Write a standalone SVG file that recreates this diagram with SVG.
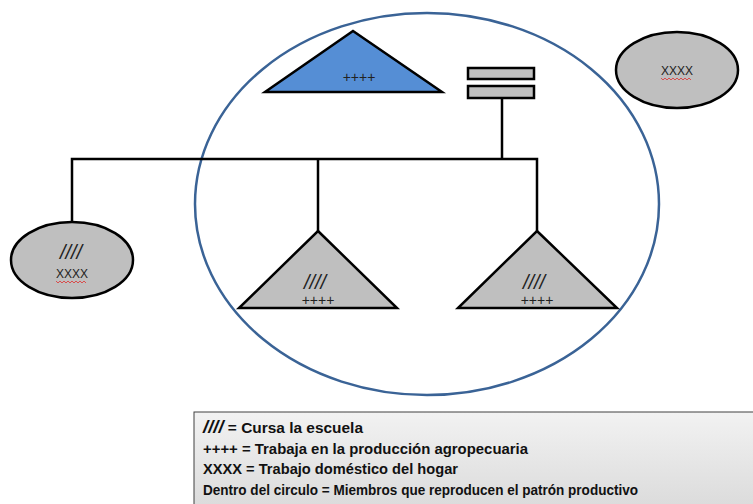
<svg xmlns="http://www.w3.org/2000/svg" width="753" height="504" viewBox="0 0 753 504">
<defs>
<linearGradient id="lg" x1="0" y1="0" x2="0" y2="1">
<stop offset="0" stop-color="#F2F2F2"/>
<stop offset="1" stop-color="#DADADA"/>
</linearGradient>
<style>
.sh{stroke:#000;stroke-width:2.5;stroke-linejoin:miter}
.gray{fill:#BFBFBF}
.ln{fill:none;stroke:#000;stroke-width:2.5}
.t{font-family:"Liberation Sans",Arial,sans-serif;font-size:12px;fill:#222;text-anchor:middle}
.p{font-family:"Liberation Sans",Arial,sans-serif;font-size:14px;fill:#222;text-anchor:middle}
.it{font-family:"Liberation Sans",Arial,sans-serif;font-size:20px;font-style:italic;fill:#222;text-anchor:middle}
.leg{font-family:"Liberation Sans",Arial,sans-serif;font-size:15px;font-weight:bold;fill:#111}
.sq{fill:none;stroke:#E03030;stroke-width:0.8}
</style>
</defs>
<rect width="753" height="504" fill="#fff"/>
<g id="circle"><ellipse cx="427" cy="204" rx="232" ry="191" fill="none" stroke="#3A6396" stroke-width="2.5"/></g>
<g id="connectors">
<polyline class="ln" points="502,93 502,159"/>
<polyline class="ln" points="72,223 72,159 537,159 537,231"/>
<polyline class="ln" points="318,159 318,231"/>
</g>
<g id="top-triangle">
<polygon class="sh" fill="#558ED5" points="353,31 442,92 265,92"/>
<text class="p" x="359" y="82">++++</text>
</g>
<g id="couple-bars">
<rect class="sh gray" x="468" y="68" width="66" height="11"/>
<rect class="sh gray" x="468" y="86" width="66" height="12"/>
</g>
<g id="top-right-ellipse">
<ellipse class="sh gray" cx="677" cy="70" rx="61" ry="38"/>
<text class="t" x="677" y="75">XXXX</text>
<path class="sq" d="M661,78 l2,2 l2,-2 l2,2 l2,-2 l2,2 l2,-2 l2,2 l2,-2 l2,2 l2,-2 l2,2 l2,-2 l2,2 l2,-2 l2,2"/>
</g>
<g id="left-ellipse">
<ellipse class="sh gray" cx="72" cy="260" rx="61" ry="38"/>
<text class="it" x="71" y="259">////</text>
<text class="t" x="72" y="278">XXXX</text>
<path class="sq" d="M56,281 l2,2 l2,-2 l2,2 l2,-2 l2,2 l2,-2 l2,2 l2,-2 l2,2 l2,-2 l2,2 l2,-2 l2,2 l2,-2 l2,2"/>
</g>
<g id="left-triangle">
<polygon class="sh gray" points="318,231 397,308 239,308"/>
<text class="it" x="315" y="289">////</text>
<text class="p" x="318" y="305">++++</text>
</g>
<g id="right-triangle">
<polygon class="sh gray" points="537,231 617,308 458,308"/>
<text class="it" x="534" y="289">////</text>
<text class="p" x="537" y="305">++++</text>
</g>
<g id="legend">
<rect x="194" y="412" width="600" height="100" fill="url(#lg)" stroke="#404040" stroke-width="1"/>
<text class="leg" x="203" y="433" textLength="160" lengthAdjust="spacingAndGlyphs"><tspan font-style="italic" font-size="18">////</tspan> = Cursa la escuela</text>
<text class="leg" x="203" y="454" textLength="325" lengthAdjust="spacingAndGlyphs">++++ = Trabaja en la producción agropecuaria</text>
<text class="leg" x="203" y="474" textLength="255" lengthAdjust="spacingAndGlyphs">XXXX = Trabajo doméstico del hogar</text>
<text class="leg" x="203" y="495" textLength="435" lengthAdjust="spacingAndGlyphs">Dentro del circulo = Miembros que reproducen el patrón productivo</text>
</g>
</svg>
